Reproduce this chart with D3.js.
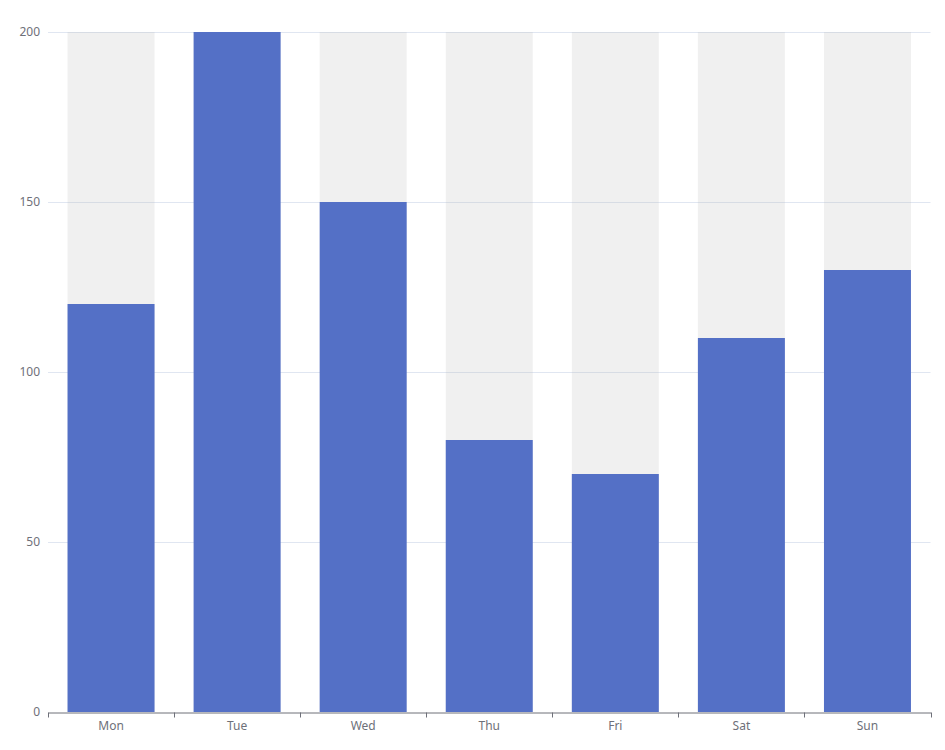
<!DOCTYPE html>
<html>
<head>
<meta charset="utf-8">
<script src="https://cdn.jsdelivr.net/npm/d3@7"></script>
<style>
  body { margin: 0; background: #fff; }
  text { font-family: "Microsoft YaHei", "Noto Sans", sans-serif; }
</style>
</head>
<body>
<div id="chart"></div>
<script>
// data
var days = ["Mon", "Tue", "Wed", "Thu", "Fri", "Sat", "Sun"];
var values = [120, 200, 150, 80, 70, 110, 130];
var yTicks = [0, 50, 100, 150, 200];

var W = 945, H = 750;
var margin = {top: 32, right: 14.5, bottom: 38, left: 48},
    width = W - margin.left - margin.right,
    height = H - margin.top - margin.bottom;

var svg = d3.select("#chart")
  .append("svg")
    .attr("width", W)
    .attr("height", H)
  .append("g")
    .attr("transform", "translate(" + margin.left + "," + margin.top + ")");

var x = d3.scaleBand()
    .domain(days)
    .range([0, width])
    .paddingInner(0.31)
    .paddingOuter(0.155);

var band = d3.scaleBand().domain(days).range([0, width]);

var y = d3.scaleLinear()
    .domain([0, 200])
    .range([height, 0]);

// grid lines
svg.append("g")
  .selectAll("line")
  .data(yTicks.slice(1))
  .enter()
  .append("line")
    .attr("x1", 0)
    .attr("x2", width)
    .attr("y1", function(d) { return Math.round(y(d)) + 0.5; })
    .attr("y2", function(d) { return Math.round(y(d)) + 0.5; })
    .attr("stroke", "#E0E6F1");

// background bars
svg.append("g")
  .selectAll("rect")
  .data(days)
  .enter()
  .append("rect")
    .attr("x", function(d) { return x(d); })
    .attr("y", y(200))
    .attr("width", x.bandwidth())
    .attr("height", height - y(200))
    .attr("fill", "rgba(180,180,180,0.2)");

// value bars
svg.append("g")
  .selectAll("rect")
  .data(values)
  .enter()
  .append("rect")
    .attr("x", function(d, i) { return x(days[i]); })
    .attr("y", function(d) { return y(d); })
    .attr("width", x.bandwidth())
    .attr("height", function(d) { return height - y(d); })
    .attr("fill", "#5470c6");

// y axis labels
svg.append("g")
  .selectAll("text")
  .data(yTicks)
  .enter()
  .append("text")
    .attr("x", -8)
    .attr("y", function(d) { return y(d); })
    .attr("dy", "0.35em")
    .attr("text-anchor", "end")
    .attr("font-size", 12)
    .attr("fill", "#6E7079")
    .text(function(d) { return d; });

// x axis
var xAxis = svg.append("g")
    .attr("transform", "translate(0," + (Math.round(height) + 0.5) + ")")
    .call(d3.axisBottom(band).tickSize(0).tickPadding(0).tickFormat(""));
xAxis.select(".domain").attr("stroke", "#6E7079");
xAxis.selectAll(".tick").remove();

var tickPos = [0].concat(days.map(function(d) { return band(d) + band.bandwidth(); }));
xAxis.append("g")
  .selectAll("line")
  .data(tickPos)
  .enter()
  .append("line")
    .attr("x1", function(d) { return Math.round(d) + 0.5; })
    .attr("x2", function(d) { return Math.round(d) + 0.5; })
    .attr("y1", 0)
    .attr("y2", 5)
    .attr("stroke", "#6E7079");

xAxis.append("g")
  .selectAll("text")
  .data(days)
  .enter()
  .append("text")
    .attr("x", function(d) { return band(d) + band.bandwidth() / 2; })
    .attr("y", 17)
    .attr("text-anchor", "middle")
    .attr("font-size", 12)
    .attr("fill", "#6E7079")
    .text(function(d) { return d; });
</script>
</body>
</html>
